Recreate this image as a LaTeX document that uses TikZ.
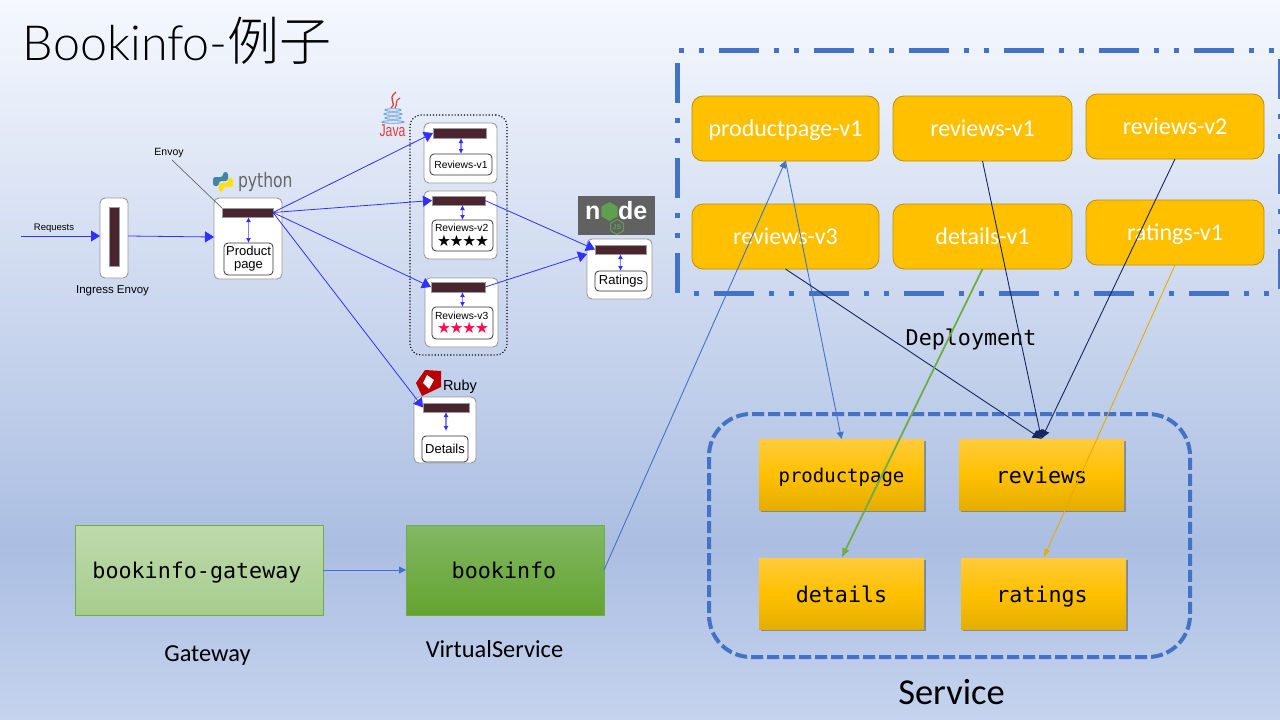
\documentclass[tikz,border=0pt]{standalone}
\usepackage{fontspec}
\setmainfont{Carlito}
\newfontfamily\titlefont{Lato Light}
\newfontfamily\cjkfont{Noto Sans CJK SC Light}
\newfontfamily\arialfont{Liberation Sans}
\newfontfamily\monofont{DejaVu Sans Mono}
\newfontfamily\djvfont{DejaVu Sans}
\usetikzlibrary{arrows.meta,shadows,shapes.geometric}
\definecolor{bgtop}{HTML}{F5F8FE}
\definecolor{bgmid}{HTML}{ABBEE2}
\definecolor{bgbot}{HTML}{C5D3EE}
\definecolor{frameblue}{HTML}{4472C4}
\definecolor{amber}{HTML}{FFC000}
\definecolor{amberline}{HTML}{BF9000}
\definecolor{ambertop}{HTML}{FFCB3C}
\definecolor{amberbot}{HTML}{E3AE00}
\definecolor{navy}{HTML}{14285F}
\definecolor{leafgreen}{HTML}{70AD47}
\definecolor{vstop}{HTML}{82B865}
\definecolor{vsmid}{HTML}{6DB13F}
\definecolor{vsbot}{HTML}{64A32F}
\definecolor{bar}{HTML}{4A242E}
\definecolor{meshblue}{HTML}{3030FF}
\definecolor{podline}{HTML}{9A9A9A}
\definecolor{starred}{HTML}{FF0A50}
\definecolor{javared}{HTML}{E03A3E}
\definecolor{javablue}{HTML}{6E9FD8}
\definecolor{nodegreen}{HTML}{5FA04E}
\tikzset{
  px/.style={inner sep=0pt,outer sep=0pt},
  depbox/.style={px,draw=amberline,line width=0.8pt,fill=amber,rounded corners=11pt,text=white,text height=15pt,text depth=0pt,font=\fontsize{24}{24}\selectfont},
  svcbox/.style={px,top color=ambertop,bottom color=amberbot,middle color=amber,font=\fontsize{21.7}{22}\monofont,text=black,text height=17pt,text depth=0pt,
     drop shadow={shadow xshift=1.8pt,shadow yshift=-1.8pt,fill=black,opacity=0.3}},
  podbox/.style={px,draw=podline,line width=0.9pt,fill=white,rounded corners=5pt},
  barbox/.style={px,fill=bar,draw=podline,line width=0.3pt},
  innerbox/.style={px,draw=black!80,line width=0.8pt,fill=white,rounded corners=4pt,align=center,font=\fontsize{13}{14}\arialfont},
  revinner/.style={innerbox,align=left,font=\fontsize{10.3}{13}\arialfont},
  mesharrow/.style={draw=meshblue,line width=0.8pt,-{Triangle[length=9pt,width=11pt,fill=meshblue]}},
  innerarrow/.style={draw=meshblue!60,line width=1.4pt,{Latex[length=5pt,width=5pt,color=meshblue]}-{Latex[length=5pt,width=5pt,color=meshblue]}},
  thinblue/.style={draw=frameblue,line width=0.9pt,-{Triangle[length=7pt,width=7pt]}},
  navyarrow/.style={draw=navy,line width=0.9pt,-{Latex[length=9pt,width=9pt]}},
  framedash/.style={draw=frameblue,line width=5pt,dash pattern=on 40pt off 15pt on 5pt off 15pt on 5pt off 15pt},
  plainlabel/.style={px,font=\fontsize{24.4}{24}\selectfont,text=black},
  monolabel/.style={px,font=\fontsize{21.7}{22}\monofont,text=black},
  smalllabel/.style={px,font=\fontsize{11.5}{12}\arialfont,text=black},
  greenmono/.style={px,font=\fontsize{21.7}{22}\monofont,text=black,text height=16pt,text depth=0pt},
}
% \pbox{style}{name}{x1}{y1}{x2}{y2}{text}
\newcommand\pbox[7]{%
  \pgfmathsetmacro\pcx{(#3+#5)/2}\pgfmathsetmacro\pcy{(#4+#6)/2}%
  \pgfmathsetmacro\pw{#5-#3}\pgfmathsetmacro\ph{#6-#4}%
  \node[#1,minimum width=\pw pt,minimum height=\ph pt] (#2) at (\pcx,\pcy) {#7};}
\newcommand\starsrow{{\djvfont\fontsize{15.5}{13}\selectfont ★\kern-1.2pt★\kern-1.2pt★\kern-1.2pt★}}
\begin{document}
\begin{tikzpicture}[x=1pt,y=-1pt]
\useasboundingbox (0,0) rectangle (1280,720);
\fill[top color=bgtop,bottom color=bgmid,draw=none] (0,0) rectangle (1280,546);
\fill[top color=bgmid,bottom color=bgbot,draw=none] (0,545) rectangle (1280,720);

% title
\node[px,anchor=base west,font=\fontsize{48.4}{48}\titlefont,text=black] (title) at (23,60) {Bookinfo-{\cjkfont\fontsize{52}{52}\selectfont 例子}};

% mesh: dotted group
\pbox{px,draw=black,line width=1.1pt,dotted,rounded corners=11pt}{group}{410}{115}{507}{355}{}

% pods
\pbox{podbox}{ingress}{100}{198}{128}{278}{}
\pbox{barbox}{ingressbar}{109}{207}{119}{266}{}
\pbox{podbox}{ppod}{214}{198}{282}{279}{}
\pbox{barbox}{pbar}{222}{208}{273}{217}{}
\pbox{innerbox}{pin}{224}{243}{273}{275}{Product\\[-1pt]page}
\pbox{podbox}{r1pod}{424}{123}{497}{183}{}
\pbox{barbox}{r1bar}{433}{128}{486}{138}{}
\pbox{innerbox,font=\fontsize{10.3}{12}\arialfont}{r1in}{430}{154}{492}{175}{Reviews-v1}
\pbox{podbox}{r2pod}{424}{191}{497}{259}{}
\pbox{barbox}{r2bar}{432}{196}{485}{205}{}
\pbox{revinner}{r2in}{432}{220}{493}{251}{\hspace{-1pt}Reviews-v2\\[1.5pt]\hspace{1pt}\starsrow}
\pbox{podbox}{r3pod}{425}{278}{498}{347}{}
\pbox{barbox}{r3bar}{431}{282}{485}{292}{}
\pbox{revinner}{r3in}{432}{307}{493}{339}{\hspace{-1pt}Reviews-v3\\[1.5pt]\hspace{1pt}{\color{starred}\starsrow}}
\pbox{podbox}{dpod}{414}{397}{476}{463}{}
\pbox{barbox}{dbar}{423}{403}{469}{412}{}
\pbox{innerbox}{din}{422}{436}{468}{462}{Details}
\pbox{podbox}{rtpod}{587}{239}{652}{299}{}
\pbox{barbox}{rtbar}{595}{245}{646}{254}{}
\pbox{innerbox}{rtin}{595}{271}{647}{291}{Ratings}

% labels
\coordinate (reqstart) at (21,236);
\node[px,font=\fontsize{9.5}{10}\arialfont] (reqlabel) at (54,228) {Requests};
\node[smalllabel] (inglabel) at (112.5,291) {Ingress Envoy};
\node[px,font=\fontsize{10.5}{11}\arialfont] (envoylabel) at (169,152.5) {Envoy};
\coordinate (envoyend) at (172,160);

% python logo
\begin{scope}[shift={(213,172)}]
  \fill[rounded corners=2.5pt,fill=blue!35!cyan!55!black!75] (10,0) -- (15,0) -- (15,9) -- (6,9) -- (6,14) -- (0,14) -- (0,5) -- (10,5) -- cycle;
  \fill[rounded corners=2.5pt,fill=yellow!85!orange] (10,20) -- (6,20) -- (6,11) -- (15,11) -- (15,6) -- (20,6) -- (20,15) -- (10,15) -- cycle;
\end{scope}
\node[px,anchor=west,font=\fontsize{20}{20}\djvfont,text=black!60,xscale=0.78] (pylabel) at (238,181.5) {python};

% java logo
\draw[javared,line width=1.3pt] (396,92) .. controls (386,100) and (398,102) .. (391,108);
\draw[javared,line width=1.1pt] (400,98) .. controls (394,101) and (398,104) .. (395,108);
\foreach \yy/\wd in {110/8,114/9,118/8,122/11}{\draw[javablue,line width=0.9pt] (393,\yy) ellipse ({\wd pt} and 1.3pt);}
\node[px,font=\fontsize{17}{17}\arialfont,text=javared,xscale=0.72] (javalabel) at (392.5,130.5) {Java};

% ruby logo
\fill[red!72!black] (425,370) -- (441,371) -- (441,387) -- (422,396) -- (416,383) -- cycle;
\fill[white] (427,375) -- (434,380) -- (429,389) -- (423,383) -- cycle;
\node[px,anchor=west,font=\fontsize{14.5}{14}\arialfont] (rubylabel) at (443,387) {Ruby};

% node logo
\pbox{px,fill=black!62}{nodebg}{578}{196}{655}{235}{}
\node[px,font=\fontsize{25}{25}\arialfont\bfseries,text=white,anchor=base west] (noden) at (585,219) {n};
\node[regular polygon,regular polygon sides=6,regular polygon rotate=30,fill=nodegreen,minimum size=19pt,inner sep=0pt] (nodehex) at (609.5,211.5) {};
\node[px,font=\fontsize{25}{25}\arialfont\bfseries,text=white,anchor=base west] (nodede) at (618,219) {de};
\node[regular polygon,regular polygon sides=6,regular polygon rotate=30,draw=nodegreen,line width=1pt,minimum size=15pt,inner sep=0pt,font=\fontsize{7}{7}\arialfont\bfseries,text=nodegreen] (nodejs) at (617,227) {JS};

% mesh arrows
\draw[mesharrow] (reqstart) -- (reqstart -| ingress.west);
\draw[mesharrow] ([yshift=2pt]ingress.east) -- ([yshift=1.5pt]ppod.west);
\draw[mesharrow] (pbar.east) -- (r1bar.west);
\draw[mesharrow] (pbar.east) -- (r2bar.west);
\draw[mesharrow] (pbar.east) -- (r3bar.west);
\draw[mesharrow] (pbar.east) -- (dbar.west);
\draw[mesharrow] (r2bar.east) -- (rtbar.west);
\draw[mesharrow] (r3bar.east) -- (rtpod.west |- rtbar.south);
\draw[draw=black!60,line width=0.7pt] (envoyend) -- (pbar.north west);
\draw[innerarrow] (pbar.south -| pin.north) -- (pin.north);
\draw[innerarrow] (r1bar.south -| r1in.north) -- (r1in.north);
\draw[innerarrow] (r2bar.south -| r2in.north) -- (r2in.north);
\draw[innerarrow] (r3bar.south -| r3in.north) -- (r3in.north);
\draw[innerarrow] (dbar.south) -- ([yshift=5pt]dbar.south |- din.north);
\draw[innerarrow] (rtbar.south) -- (rtbar.south |- rtin.north);

% deployment frame
\coordinate (ftl) at (679,50); \coordinate (ftr) at (1280,50);
\coordinate (fll) at (677.5,63); \coordinate (flb) at (677.5,295);
\coordinate (fbl) at (679,293); \coordinate (fbr) at (1280,293);
\coordinate (frt) at (1280.5,59); \coordinate (frb) at (1280.5,293);
\draw[framedash,dash phase=55pt] (ftl) -- (ftr);
\draw[framedash] (fll) -- (flb);
\draw[framedash,dash phase=60pt] (fbl) -- (fbr);
\draw[framedash] (frt) -- (frb);

% service frame
\pbox{px,draw=frameblue,line width=4pt,dash pattern=on 12pt off 4pt,rounded corners=42pt}{svcframe}{709}{414}{1190}{657}{}

% deployments
\pbox{depbox}{dpp}{692}{96}{879}{161}{productpage-v1}
\pbox{depbox}{drv1}{893}{96}{1072}{161}{reviews-v1}
\pbox{depbox}{drv2}{1086}{94}{1264}{159}{reviews-v2}
\pbox{depbox}{drv3}{692}{204}{879}{269}{reviews-v3}
\pbox{depbox}{ddt}{893}{204}{1072}{269}{details-v1}
\pbox{depbox}{drt}{1086}{200}{1264}{265}{ratings-v1}

% services
\pbox{svcbox,font=\fontsize{19}{19}\monofont,text height=15pt}{spp}{759}{439}{924}{510}{productpage}
\pbox{svcbox}{srv}{959}{439}{1124}{510}{reviews}
\pbox{svcbox}{sdt}{759}{558}{924}{629}{details}
\pbox{svcbox}{srt}{961}{558}{1126}{629}{\hspace*{-3pt}ratings}

% gateway / virtualservice
\pbox{greenmono,draw=leafgreen,line width=0.8pt,top color=leafgreen!45!white,bottom color=leafgreen!62!white}{gw}{75}{525}{323}{615}{\hspace*{-4pt}bookinfo-gateway}
\pbox{greenmono,draw=leafgreen,line width=0.8pt,top color=vstop,middle color=vsmid,bottom color=vsbot}{vs}{406}{525}{604}{615}{\hspace*{-2pt}bookinfo}

% labels right
\node[monolabel] (deplabel) at (971,339) {Deployment};
\node[px,font=\fontsize{36.5}{36}\selectfont] (svclabel) at (951.5,692) {Service};
\node[plainlabel] (gwlabel) at (207.5,656) {Gateway};
\node[plainlabel] (vslabel) at (494.5,649) {VirtualService};

% right connectors
\draw[thinblue] (gw.east) -- (vs.west);
\draw[thinblue] (vs.east) -- (dpp.south);
\draw[thinblue] (dpp.south) -- (spp.north);
\draw[navyarrow] (drv1.south) -- (srv.north);
\draw[navyarrow] (drv2.south) -- (srv.north);
\draw[navyarrow] (drv3.south) -- (srv.north);
\draw[draw=leafgreen,line width=1.8pt,-{Latex[length=10pt,width=8pt]}] (ddt.south) -- (sdt.north);
\draw[draw=amber!90!black,line width=0.9pt,-{Latex[length=9pt,width=6pt]}] (drt.south) -- (srt.north);
\end{tikzpicture}
\end{document}
